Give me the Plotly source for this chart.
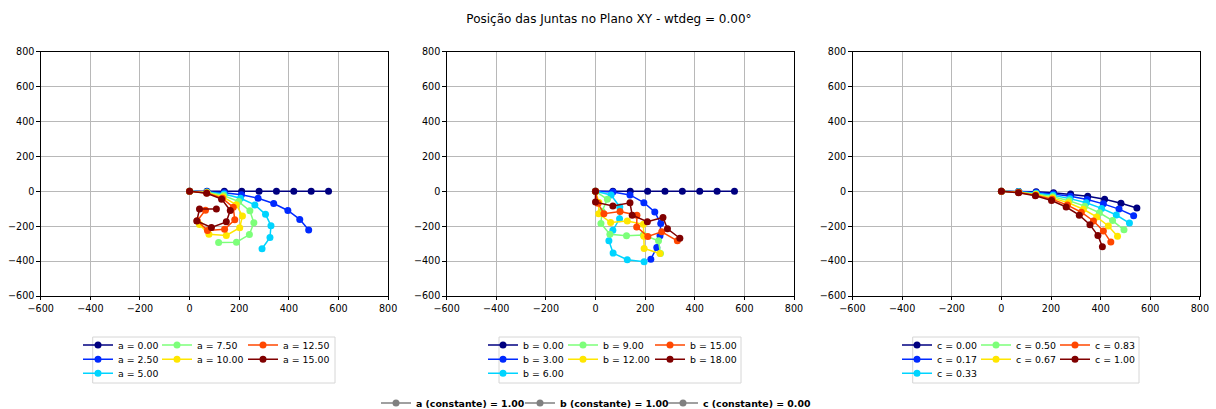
import plotly.graph_objects as go

FONT = "DejaVu Sans"
W, H = 1216, 409

# Jet colormap sampled at 7 evenly spaced points
series_colors = ["#000080", "#002aff", "#00d4ff", "#7dff7a", "#ffe600", "#ff4700", "#800000"]

ticks = [-600, -400, -200, 0, 200, 400, 600, 800]

# ---- Panel 1: varying a (b = 1, c = 0) ----
a_values = [0.0, 2.5, 5.0, 7.5, 10.0, 12.5, 15.0]
a_joint_x = [
    [0, 70, 140, 210, 280, 350, 420, 490, 560],
    [0, 70, 140, 209, 276, 339, 396, 444, 480],
    [0, 70, 139, 205, 263, 306, 328, 324, 292],
    [0, 70, 137, 198, 243, 259, 241, 189, 117],
    [0, 70, 135, 188, 213, 202, 148, 78, 40],
    [0, 69, 132, 176, 182, 141, 72, 31, 64],
    [0, 69, 129, 164, 148, 88, 29, 40, 108],
]
a_joint_y = [
    [0, 0, 0, 0, 0, 0, 0, 0, 0],
    [0, -2, -8, -20, -40, -70, -110, -161, -222],
    [0, -4, -16, -40, -78, -132, -197, -265, -329],
    [0, -6, -24, -59, -112, -180, -248, -292, -293],
    [0, -8, -32, -77, -141, -209, -253, -246, -190],
    [0, -10, -40, -92, -163, -218, -224, -169, -108],
    [0, -11, -45, -110, -175, -207, -170, -102, -102],
]

# ---- Panel 2: varying b (a = 1, c = 0) ----
b_values = [0.0, 3.0, 6.0, 9.0, 12.0, 15.0, 18.0]
b_joint_x = [
    [0, 70, 140, 210, 280, 350, 420, 490, 560],
    [0, 70, 139, 195, 239, 263, 260, 247, 223],
    [0, 63, 98, 97, 70, 54, 71, 128, 196],
    [0, 48, 26, 22, 58, 125, 193, 254, 262],
    [0, 14, 13, 61, 128, 193, 195, 196, 260],
    [0, 10, 34, 99, 167, 166, 211, 267, 330],
    [0, 0, 70, 139, 148, 209, 272, 290, 340],
]
b_joint_y = [
    [0, 0, 0, 0, 0, 0, 0, 0, 0],
    [0, -4, -21, -65, -118, -185, -255, -322, -389],
    [0, -21, -90, -158, -223, -284, -354, -392, -404],
    [0, -46, -115, -185, -246, -255, -251, -284, -356],
    [0, -64, -128, -179, -170, -189, -258, -328, -356],
    [0, -69, -128, -116, -137, -204, -259, -232, -284],
    [0, -62, -84, -66, -137, -174, -150, -215, -269],
]

# ---- Panel 3: varying c (a = 1, b = 1) ----
c_values = [0.0, 1 / 6, 1 / 3, 0.5, 2 / 3, 5 / 6, 1.0]
c_joint_x = [
    [0, 70, 140, 210, 279, 348, 416, 482, 546],
    [0, 70, 140, 209, 278, 346, 411, 474, 533],
    [0, 70, 140, 208, 276, 342, 404, 463, 516],
    [0, 70, 139, 207, 273, 336, 395, 448, 494],
    [0, 70, 139, 206, 270, 330, 384, 431, 468],
    [0, 70, 138, 204, 266, 322, 371, 411, 441],
    [0, 69, 137, 202, 261, 314, 357, 389, 407],
]
c_joint_y = [
    [0, -1, -3, -8, -16, -28, -45, -68, -96],
    [0, -2, -7, -16, -29, -47, -72, -102, -140],
    [0, -3, -11, -23, -42, -66, -98, -136, -182],
    [0, -5, -15, -31, -54, -85, -123, -168, -221],
    [0, -6, -19, -39, -66, -103, -147, -199, -258],
    [0, -7, -22, -46, -79, -120, -170, -227, -291],
    [0, -8, -26, -53, -90, -137, -192, -254, -318],
]

constant_labels = ["a (constante) = 1.00", "b (constante) = 1.00", "c (constante) = 0.00"]

panels = [
    ("a", a_values, a_joint_x, a_joint_y),
    ("b", b_values, b_joint_x, b_joint_y),
    ("c", c_values, c_joint_x, c_joint_y),
]

# pixel layout of the three axes boxes
axes_px_x = [(40.7, 388.1), (446.6, 794.0), (852.5, 1199.9)]
axes_px_y = (51.7, 296.0)
# legend layout (text start columns, row centres, frame boxes)
legend_text_cols = [(118, 197, 283), (523, 603, 690), (937, 1016, 1095)]
legend_rows = (345, 359.3, 373.3)
legend_frames = [(92.7, 335), (499, 741), (912.7, 1139)]
legend_frame_y = (337, 383)


def fx(px):
    return px / W


def fy(py):
    return 1 - py / H


def legend_id(n):
    return "legend" if n == 1 else f"legend{n}"


fig = go.Figure()
layout = dict(
    width=W,
    height=H,
    margin=dict(l=0, r=0, t=0, b=0, autoexpand=False),
    paper_bgcolor="white",
    plot_bgcolor="white",
    font=dict(family=FONT, color="black"),
    showlegend=True,
    shapes=[],
    title=dict(
        text="Posição das Juntas no Plano XY - wtdeg = 0.00°",
        x=0.5008, xanchor="center", y=fy(18.5), yanchor="middle",
        xref="paper", yref="container",
        font=dict(family=FONT, size=12, color="black"),
    ),
)

leg_n = 0
for p, (param, values, xs, ys) in enumerate(panels):
    sfx = "" if p == 0 else str(p + 1)
    for j, v in enumerate(values):
        leg_n += 1
        lid = legend_id(leg_n)
        fig.add_trace(go.Scatter(
            x=xs[j], y=ys[j], mode="lines+markers",
            name=f"{param} = {v:.2f}",
            line=dict(color=series_colors[j], width=1.5),
            marker=dict(color=series_colors[j], size=7),
            xaxis="x" + sfx, yaxis="y" + sfx,
            legend=lid,
        ))
        col = 0 if j < 3 else (1 if j < 5 else 2)
        row = j if j < 3 else (j - 3 if j < 5 else j - 5)
        layout[lid] = dict(
            x=fx(legend_text_cols[p][col] - 40), y=fy(legend_rows[row]),
            xanchor="left", yanchor="middle",
            bgcolor="rgba(0,0,0,0)", borderwidth=0,
            font=dict(family=FONT, size=9.4, color="black"),
        )
    axis_common = dict(
        range=[-600, 800], tickvals=ticks, ticks="outside", ticklen=3.5,
        tickwidth=0.8, tickcolor="black", showline=True, linecolor="black",
        linewidth=0.8, mirror=True, showgrid=True, gridcolor="#b8b8b8",
        gridwidth=0.8, zeroline=False, automargin=False,
        tickfont=dict(family=FONT, size=9.6, color="black"),
    )
    layout["xaxis" + sfx] = dict(
        axis_common, domain=[fx(axes_px_x[p][0]), fx(axes_px_x[p][1])],
        anchor="y" + sfx,
    )
    layout["yaxis" + sfx] = dict(
        axis_common, domain=[fy(axes_px_y[1]), fy(axes_px_y[0])],
        anchor="x" + sfx,
    )
    x0, x1 = legend_frames[p]
    layout["shapes"].append(dict(
        type="rect", xref="paper", yref="paper",
        x0=fx(x0), x1=fx(x1), y0=fy(legend_frame_y[1]), y1=fy(legend_frame_y[0]),
        line=dict(color="#d6d6d6", width=1), fillcolor="rgba(0,0,0,0)",
    ))

# constant-parameter entries along the bottom
bottom_text_x = (416, 560, 703)
for k, label in enumerate(constant_labels):
    leg_n += 1
    lid = legend_id(leg_n)
    fig.add_trace(go.Scatter(
        x=[None], y=[None], mode="lines+markers", name=label,
        line=dict(color="gray", width=1.5), marker=dict(color="gray", size=7),
        xaxis="x", yaxis="y", legend=lid,
    ))
    layout[lid] = dict(
        x=fx(bottom_text_x[k] - 40), y=fy(403), xanchor="left", yanchor="middle",
        bgcolor="rgba(0,0,0,0)", borderwidth=0,
        font=dict(family=FONT, size=9.4, color="black", weight="bold"),
    )

fig.update_layout(**layout)
fig.write_html("out.html")
